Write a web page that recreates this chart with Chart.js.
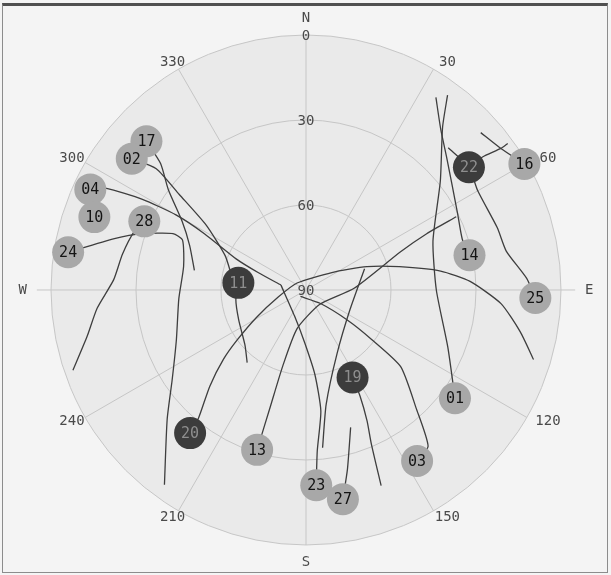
<!DOCTYPE html>
<html>
<head>
<meta charset="utf-8">
<script src="https://cdn.jsdelivr.net/npm/chart.js@4/dist/chart.umd.min.js"></script>
<style>
  html, body { margin: 0; padding: 0; background: #f4f4f4; }
  #wrap { position: relative; width: 611px; height: 575px; overflow: hidden; }
  #sky { position: absolute; left: 0; top: 0; }
  #frame {
    position: absolute; left: 2px; top: 3px; width: 604px; height: 566px;
    border: 1px solid #8c8c8c; border-top: 3px solid #505050; pointer-events: none;
  }
</style>
</head>
<body>
<div id="wrap">
  <canvas id="sky" width="611" height="575"></canvas>
  <div id="frame"></div>
</div>
<script>
// Satellites in view: PRN, azimuth (deg), elevation (deg)
const prns   = ['17', '02', '04', '10', '28', '24', '11', '22', '16', '14', '25', '19', '01', '20', '13', '03', '23', '27'];
const satAz  = [313, 307, 295, 289, 293, 279, 276, 53, 60, 78, 92, 152, 126, 219, 197, 147, 177, 170];
const satEl  = [13, 13, 6, 11, 28, 5, 66, 18, 1, 31, 9, 55, 25, 25, 31, 18, 21, 15];
// false = tracked but not used in the fix (drawn dark)
const inFix  = [true, true, true, true, true, true, false, false, true, true, true, false, true, false, true, true, true, true];

// Sky tracks, [azimuth, elevation] pairs starting at the current position
const trk01 = [[126, 25], [112, 36], [90, 44], [69, 42], [51, 29], [40, 15], [36, 5]];
const trk14 = [[78, 31], [72, 32], [63, 30], [47, 22], [40, 16], [34, 8]];
const trk25 = [[92, 9], [87, 12], [79, 18], [72, 19], [60, 20], [53, 18], [45, 19]];
const trk22 = [[53, 18], [53, 12], [54, 5], [54, 2]];
const trk16 = [[60, 1], [54, 5], [48, 7]];
const trk13 = [[197, 31], [197, 47], [197, 62], [193, 76], [137, 83], [88, 73], [68, 54], [65, 43], [64, 31]];
const trk20 = [[219, 25], [220, 31], [225, 42], [230, 52], [234, 60], [241, 70], [256, 80], [308, 86], [56, 79],
               [69, 67], [76, 56], [82, 42], [87, 32], [94, 21], [101, 13], [107, 6]];
const trk11 = [[276, 66], [262, 65], [246, 64], [228, 61], [219, 57]];
const trk24 = [[279, 5], [285, 20], [289, 29], [293, 39], [292, 43], [281, 46], [266, 45], [249, 41], [236, 33], [227, 23], [216, 5]];
const trk28 = [[293, 28], [289, 26], [281, 24], [273, 22], [265, 16], [258, 11], [251, 3]];
const trk17 = [[313, 13], [311, 22], [306, 30], [299, 40], [291, 46], [280, 50]];
const trk02 = [[307, 13], [309, 22], [307, 34], [303, 48], [293, 59], [282, 63]];
const trk04 = [[295, 6], [297, 11], [299, 24], [300, 37], [299, 49], [294, 63], [290, 72], [281, 81]];
const trk03 = [[147, 18], [142, 20], [137, 33], [129, 47], [127, 61], [126, 72], [133, 83], [221, 87]];
const trk19 = [[152, 55], [153, 48], [155, 39], [157, 31], [159, 16]];
const trk27 = [[170, 15], [167, 25], [162, 39]];
const trk23 = [[177, 21], [176, 33], [173, 47], [174, 60], [181, 71], [204, 80], [281, 81]];
const trk23b = [[174, 34], [170, 49], [154, 65], [114, 73], [70, 68]];

const tracks = [trk01, trk14, trk25, trk22, trk16, trk13, trk20, trk11, trk24, trk28,
                trk17, trk02, trk04, trk03, trk19, trk27, trk23, trk23b];

// Polar grid
const elevRings  = [0, 30, 60];
const elevLabels = ['0', '30', '60', '90'];
const azSpokes   = [0, 30, 60, 90, 120, 150, 180, 210, 240, 270, 300, 330];
const azLabels   = ['N', '30', '60', 'E', '120', '150', 'S', '210', '240', 'W', '300', '330'];

// Zenith-distance projection: centre = 90 deg elevation, rim = horizon
function toXY(az, el) {
  const z = 90 - el, a = az * Math.PI / 180;
  return { x: z * Math.sin(a), y: z * Math.cos(a) };
}

// Where a compass / bearing label sits, in zenith-distance units
function labelXY(az, text) {
  const a = az * Math.PI / 180;
  if (text === 'N' || text === 'S') return { x: 96 * Math.sin(a), y: 96 * Math.cos(a) };
  if (text === 'E' || text === 'W') return { x: 100 * Math.sin(a), y: 100 * Math.cos(a) };
  return { x: 1.4 + 97 * Math.sin(a), y: 92.8 * Math.cos(a) };
}

const trackSets = tracks.map(t => ({
  type: 'scatter',
  data: t.map(p => toXY(p[0], p[1])),
  showLine: true,
  borderColor: '#3e3e3e',
  borderWidth: 1.3,
  pointRadius: 0,
  tension: 0.2,
  order: 2
}));

const satSet = {
  type: 'scatter',
  data: satAz.map((a, i) => toXY(a, satEl[i])),
  pointRadius: 16,
  pointHoverRadius: 16,
  pointBackgroundColor: inFix.map(f => f ? '#a8a8a8' : '#3c3c3c'),
  pointBorderWidth: 0,
  borderWidth: 0,
  order: 1
};

const skyGrid = {
  id: 'skyGrid',
  beforeDatasetsDraw(chart) {
    const { ctx, scales: { x, y } } = chart;
    const px = v => x.getPixelForValue(v), py = v => y.getPixelForValue(v);
    const cx = px(0), cy = py(0), unit = px(1) - cx;
    ctx.save();
    ctx.beginPath();
    ctx.arc(cx, cy, 90 * unit, 0, Math.PI * 2);
    ctx.fillStyle = '#eaeaea';
    ctx.fill();
    ctx.strokeStyle = '#c6c6c6';
    ctx.lineWidth = 1;
    elevRings.forEach(el => {
      ctx.beginPath();
      ctx.arc(cx, cy, (90 - el) * unit, 0, Math.PI * 2);
      ctx.stroke();
    });
    azSpokes.forEach(az => {
      const reach = (az % 180 === 90) ? 95 : 90;
      const p = toXY(az, 90 - reach);
      ctx.beginPath();
      ctx.moveTo(cx, cy);
      ctx.lineTo(px(p.x), py(p.y));
      ctx.stroke();
    });
    ctx.fillStyle = '#4a4a4a';
    ctx.font = '14px "DejaVu Sans Mono", monospace';
    ctx.textAlign = 'center';
    ctx.textBaseline = 'middle';
    azSpokes.forEach((az, i) => {
      const p = labelXY(az, azLabels[i]);
      ctx.fillText(azLabels[i], px(p.x), py(p.y));
    });
    elevLabels.forEach((lab, i) => {
      const p = toXY(0, i * 30);
      ctx.fillText(lab, px(p.x), py(p.y) + 1);
    });
    ctx.restore();
  },
  afterDatasetsDraw(chart) {
    const { ctx } = chart;
    const meta = chart.getDatasetMeta(chart.data.datasets.length - 1);
    ctx.save();
    ctx.font = '15px "DejaVu Sans Mono", monospace';
    ctx.textAlign = 'center';
    ctx.textBaseline = 'middle';
    meta.data.forEach((pt, i) => {
      ctx.fillStyle = inFix[i] ? '#141414' : '#8e8e8e';
      ctx.fillText(prns[i], pt.x, pt.y + 1);
    });
    ctx.restore();
  }
};

new Chart(document.getElementById('sky'), {
  type: 'scatter',
  data: { datasets: [...trackSets, satSet] },
  options: {
    responsive: false,
    animation: false,
    layout: { padding: 0, autoPadding: false },
    plugins: { legend: { display: false }, tooltip: { enabled: false } },
    scales: {
      x: { type: 'linear', display: false, min: -108.0, max: 107.65 },
      y: { type: 'linear', display: false, min: -100.6, max: 102.35 }
    }
  },
  plugins: [skyGrid]
});
</script>
</body>
</html>
